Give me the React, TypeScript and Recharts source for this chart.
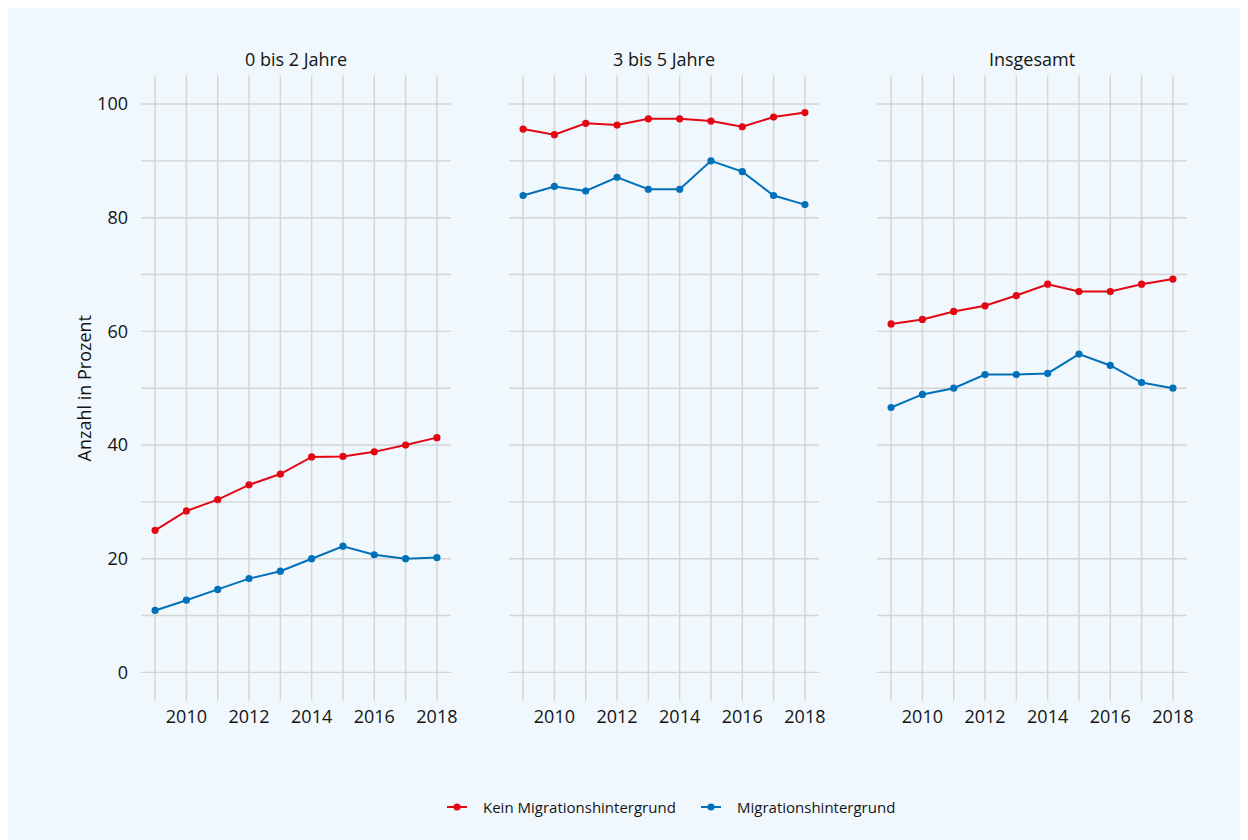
import { LineChart, Line, XAxis, YAxis, CartesianGrid, Legend } from "recharts";

const RED    = "#e30613";
const BLUE   = "#0071b9";
const GRID   = "#d2d4d6";
const TEXT   = "#141414";
const BG     = "#f0f8fd";
const FONT   = "'Open Sans', sans-serif";

const YEARS   = [2009, 2010, 2011, 2012, 2013, 2014, 2015, 2016, 2017, 2018];
const Y_TICKS = [0, 10, 20, 30, 40, 50, 60, 70, 80, 90, 100];

const PANELS = ["0 bis 2 Jahre", "3 bis 5 Jahre", "Insgesamt"];
const SERIES = ["Kein Migrationshintergrund", "Migrationshintergrund"];

const KEIN_0_2 = [25.0, 28.4, 30.4, 33.0, 34.9, 37.9, 38.0, 38.8, 40.0, 41.3];
const MIG_0_2  = [10.9, 12.7, 14.6, 16.5, 17.8, 20.0, 22.2, 20.7, 20.0, 20.2];
const KEIN_3_5 = [95.6, 94.6, 96.6, 96.3, 97.4, 97.4, 97.0, 96.0, 97.7, 98.5];
const MIG_3_5  = [83.9, 85.5, 84.7, 87.1, 85.0, 85.0, 90.0, 88.1, 83.9, 82.3];
const KEIN_GES = [61.3, 62.1, 63.5, 64.5, 66.3, 68.3, 67.0, 67.0, 68.3, 69.2];
const MIG_GES  = [46.6, 48.9, 50.0, 52.4, 52.4, 52.6, 56.0, 54.0, 51.0, 50.0];

const H = 832;
const PAD_R = 24;
const MARGIN = { top: 67.6, right: PAD_R, bottom: 109.2, left: 0 };

function LegendContent({ payload }: any) {
  return (
    <div style={{ display: "flex", height: 20, alignItems: "center", fontSize: 15, color: TEXT, fontFamily: FONT }}>
      {(payload || []).map((p: any, i: number) => (
        <div key={p.value} style={{ display: "flex", alignItems: "center", width: i === 0 ? 254 : "auto" }}>
          <svg width={20} height={10} style={{ marginRight: 16 }}>
            <line x1={0} y1={5} x2={20} y2={5} stroke={p.color} strokeWidth={2} />
            <circle cx={10} cy={5} r={3.6} fill={p.color} />
          </svg>
          <span style={{ whiteSpace: "nowrap" }}>{p.value}</span>
        </div>
      ))}
    </div>
  );
}

function Panel({ title, kein, mig, left, width, showY, showLegend }: {
  title: string; kein: number[]; mig: number[]; left: number; width: number; showY?: boolean; showLegend?: boolean;
}) {
  const data = YEARS.map((y, i) => ({ year: y, kein: kein[i], mig: mig[i] }));
  const axisW = showY ? 133 : 0;
  return (
    <div style={{ position: "absolute", left, top: 0 }}>
      <div style={{
        position: "absolute", left: axisW, top: 42, width: width - axisW, textAlign: "center",
        fontSize: 18, lineHeight: "18px", color: TEXT, fontFamily: FONT, whiteSpace: "nowrap",
      }}>
        {title}
      </div>
      <LineChart width={width + PAD_R} height={H} data={data} margin={MARGIN}>
        <CartesianGrid stroke={GRID} strokeWidth={1.4} syncWithTicks />
        <XAxis
          dataKey="year" type="number" domain={[2008.55, 2018.45]} ticks={YEARS} interval={0}
          tickFormatter={(v: number) => (v % 2 === 0 ? String(v) : "")}
          tick={{ fill: TEXT, fontSize: 18 }} tickLine={false} axisLine={false} tickSize={0} tickMargin={9} height={30}
        />
        {showY ? (
          <YAxis
            type="number" domain={[-5, 105]} ticks={Y_TICKS} interval={0} width={133}
            tickFormatter={(v: number) => (v % 20 === 0 ? String(v) : "")}
            tick={{ fill: TEXT, fontSize: 18 }} tickLine={false} axisLine={false} tickSize={0} tickMargin={13}
            label={{ value: "Anzahl in Prozent", angle: -90, position: "insideLeft", offset: 77, style: { textAnchor: "middle", fill: TEXT, fontSize: 18 } }}
          />
        ) : (
          <YAxis type="number" domain={[-5, 105]} ticks={Y_TICKS} interval={0} hide />
        )}
        <Line dataKey="kein" name={SERIES[0]} stroke={RED} strokeWidth={2} dot={{ r: 3.6, fill: RED, stroke: "none" }} isAnimationActive={false} />
        <Line dataKey="mig" name={SERIES[1]} stroke={BLUE} strokeWidth={2} dot={{ r: 3.6, fill: BLUE, stroke: "none" }} isAnimationActive={false} />
        {showLegend && (
          <Legend
            verticalAlign="middle" align="center" layout="horizontal"
            content={<LegendContent />}
            wrapperStyle={{ left: -62, top: 789, width: 470, height: 20 }}
          />
        )}
      </LineChart>
    </div>
  );
}

export default function App() {
  return (
    <>
      <style>{"html, body { overflow: hidden; }"}</style>
      <div style={{ position: "relative", width: 1260, height: H, background: BG, fontFamily: FONT, overflow: "hidden" }}>
        <Panel title={PANELS[0]} kein={KEIN_0_2} mig={MIG_0_2} left={0} width={443} showY />
        <Panel title={PANELS[1]} kein={KEIN_3_5} mig={MIG_3_5} left={501} width={310} showLegend />
        <Panel title={PANELS[2]} kein={KEIN_GES} mig={MIG_GES} left={869} width={310} />
      </div>
    </>
  );
}
